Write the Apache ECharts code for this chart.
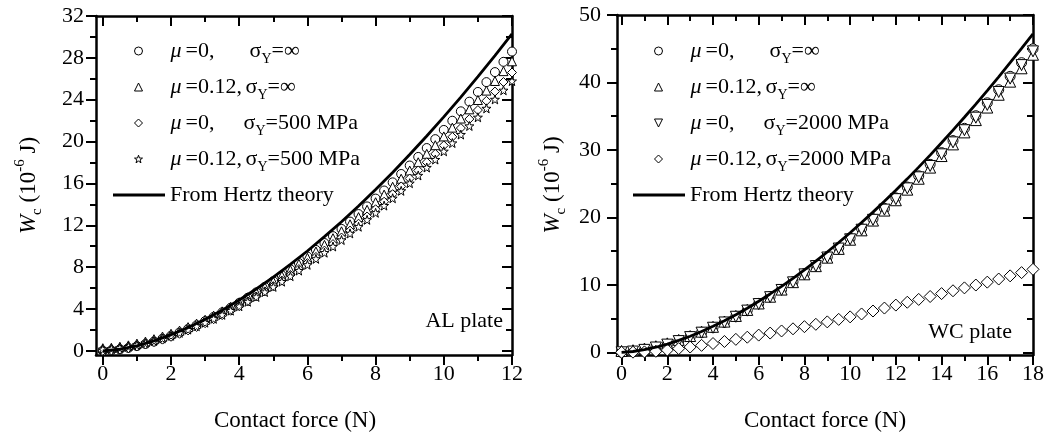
<!DOCTYPE html>
<html>
<head>
<meta charset="utf-8">
<script src="https://cdn.jsdelivr.net/npm/echarts@6/dist/echarts.min.js"></script>
<style>html,body{margin:0;padding:0;background:#fff;}#c{width:1050px;height:439px;}</style>
</head>
<body>
<div id="c"></div>
<script>
// ---------- data ----------
const fL = [0,0.25,0.5,0.75,1,1.25,1.5,1.75,2,2.25,2.5,2.75,3,3.25,3.5,3.75,4,4.25,4.5,4.75,5,5.25,5.5,5.75,6,6.25,6.5,6.75,7,7.25,7.5,7.75,8,8.25,8.5,8.75,9,9.25,9.5,9.75,10,10.25,10.5,10.75,11,11.25,11.5,11.75,12];
const leftCircle = [0,0.05,0.14,0.28,0.45,0.66,0.89,1.16,1.44,1.76,2.09,2.45,2.84,3.24,3.67,4.12,4.58,5.07,5.58,6.10,6.65,7.21,7.79,8.39,9.01,9.64,10.30,10.96,11.65,12.35,13.07,13.80,14.55,15.32,16.10,16.90,17.71,18.53,19.38,20.23,21.11,21.99,22.89,23.81,24.74,25.68,26.64,27.62,28.60];
const leftTri = [0.25,0.29,0.39,0.52,0.69,0.88,1.11,1.36,1.63,1.93,2.26,2.60,2.97,3.36,3.77,4.20,4.64,5.11,5.60,6.10,6.62,7.16,7.72,8.30,8.89,9.49,10.12,10.76,11.42,12.09,12.78,13.48,14.20,14.93,15.68,16.45,17.23,18.02,18.83,19.65,20.49,21.33,22.20,23.08,23.97,24.87,25.79,26.73,27.67];
const leftDia = [0,0.04,0.13,0.26,0.42,0.61,0.83,1.07,1.34,1.63,1.95,2.28,2.64,3.02,3.41,3.83,4.26,4.72,5.19,5.68,6.18,6.71,7.25,7.81,8.38,8.97,9.58,10.20,10.83,11.49,12.15,12.84,13.53,14.25,14.97,15.71,16.47,17.24,18.02,18.82,19.63,20.45,21.29,22.15,23.01,23.89,24.78,25.69,26.60];
const leftStar = [0.15,0.19,0.28,0.40,0.56,0.74,0.95,1.19,1.44,1.72,2.03,2.35,2.69,3.06,3.44,3.84,4.26,4.69,5.15,5.62,6.11,6.61,7.13,7.67,8.22,8.79,9.38,9.97,10.59,11.22,11.86,12.52,13.19,13.88,14.58,15.29,16.02,16.76,17.52,18.28,19.07,19.86,20.67,21.49,22.32,23.17,24.03,24.90,25.78];
const fHL = [0,0.5,1,1.5,2,2.5,3,3.5,4,4.5,5,5.5,6,6.5,7,7.5,8,8.5,9,9.5,10,10.5,11,11.5,12];
const leftHertz = [0,0.15,0.48,0.95,1.53,2.22,3.01,3.89,4.86,5.91,7.04,8.26,9.54,10.91,12.34,13.84,15.41,17.05,18.76,20.53,22.36,24.25,26.21,28.22,30.30];

const fR = [0,0.5,1,1.5,2,2.5,3,3.5,4,4.5,5,5.5,6,6.5,7,7.5,8,8.5,9,9.5,10,10.5,11,11.5,12,12.5,13,13.5,14,14.5,15,15.5,16,16.5,17,17.5,18];
const rightCircle = [0,0.11,0.36,0.72,1.15,1.68,2.27,2.94,3.67,4.46,5.32,6.23,7.21,8.24,9.32,10.45,11.65,12.88,14.17,15.51,16.90,18.33,19.80,21.33,22.89,24.50,26.16,27.86,29.60,31.38,33.20,35.07,36.98,38.92,40.91,42.93,44.99];
const rightTri = [0.20,0.31,0.55,0.90,1.33,1.84,2.41,3.06,3.78,4.55,5.39,6.28,7.24,8.24,9.30,10.40,11.56,12.77,14.03,15.33,16.69,18.08,19.53,21.01,22.54,24.11,25.73,27.38,29.09,30.82,32.60,34.42,36.28,38.18,40.12,42.10,44.11];
const rightInvTri = [0,0.11,0.36,0.71,1.14,1.66,2.25,2.91,3.64,4.42,5.27,6.18,7.15,8.17,9.24,10.37,11.55,12.78,14.05,15.38,16.75,18.17,19.64,21.15,22.70,24.30,25.94,27.62,29.35,31.12,32.92,34.78,36.67,38.59,40.57,42.57,44.61];
const rightDia = [0,0.02,0.06,0.15,0.33,0.55,0.78,1.03,1.30,1.60,1.92,2.24,2.55,2.85,3.16,3.48,3.80,4.15,4.51,4.88,5.25,5.68,6.12,6.56,7.00,7.42,7.84,8.27,8.70,9.12,9.55,9.97,10.40,10.86,11.33,11.81,12.30];
const rightHertz = [0,0.12,0.38,0.75,1.21,1.76,2.38,3.08,3.85,4.68,5.58,6.54,7.57,8.65,9.78,10.97,12.22,13.52,14.87,16.27,17.73,19.23,20.78,22.38,24.02,25.71,27.45,29.23,31.06,32.93,34.84,36.80,38.80,40.84,42.93,45.05,47.21];

// tick labels
const xTicksL = [0,2,4,6,8,10,12];
const xMinorL = [1,3,5,7,9,11];
const yTicksL = [0,4,8,12,16,20,24,28,32];
const yMinorL = [2,6,10,14,18,22,26,30];
const xTicksR = [0,2,4,6,8,10,12,14,16,18];
const xMinorR = [1,3,5,7,9,11,13,15,17];
const yTicksR = [0,10,20,30,40,50];
const yMinorR = [5,15,25,35,45];

// legend / series names
const nL = ['μ=0, σY=∞','μ=0.12, σY=∞','μ=0, σY=500 MPa','μ=0.12, σY=500 MPa','From Hertz theory'];
const nR = ['μ=0, σY=∞','μ=0.12, σY=∞','μ=0, σY=2000 MPa','μ=0.12, σY=2000 MPa','From Hertz theory'];
const richNames = {
  'μ=0, σY=∞': '{sp| }{mu|μ}{w64|=0,}{t|σ}{sub|Y}{t|=∞}',
  'μ=0.12, σY=∞': '{sp| }{mu|μ}{w60|=0.12,}{t|σ}{sub|Y}{t|=∞}',
  'μ=0, σY=500 MPa': '{sp| }{mu|μ}{w58|=0,}{t|σ}{sub|Y}{t|=500 MPa}',
  'μ=0.12, σY=500 MPa': '{sp| }{mu|μ}{w60|=0.12,}{t|σ}{sub|Y}{t|=500 MPa}',
  'μ=0, σY=2000 MPa': '{sp| }{mu|μ}{w58|=0,}{t|σ}{sub|Y}{t|=2000 MPa}',
  'μ=0.12, σY=2000 MPa': '{sp| }{mu|μ}{w60|=0.12,}{t|σ}{sub|Y}{t|=2000 MPa}',
  'From Hertz theory': '{t|From Hertz theory}'
};

// ---------- styling ----------
const FF = 'Liberation Serif';
const STAR = 'path://M50,0 L61.76,33.82 L97.55,34.55 L69.02,56.18 L79.39,90.45 L50,70 L20.61,90.45 L30.98,56.18 L2.45,34.55 L38.24,33.82 Z';
const INVTRI = 'path://M0,0 L10,0 L5,10 Z';
const LINEICON = 'path://M0,0H52V3H0Z';
const legendIcons = {
  'μ=0, σY=∞': 'circle', 'μ=0.12, σY=∞': 'triangle', 'μ=0, σY=500 MPa': 'diamond',
  'μ=0.12, σY=500 MPa': STAR, 'μ=0, σY=2000 MPa': INVTRI, 'μ=0.12, σY=2000 MPa': 'diamond'
};
const base = {fontFamily: FF, fontSize: 22, color: '#000', lineHeight: 30};
const legRich = {
  sp: Object.assign({}, base, {width: 23}),
  mu: Object.assign({}, base, {fontStyle: 'italic', padding: [0, 4, 0, 0]}),
  t: base,
  w64: Object.assign({}, base, {width: 64}),
  w60: Object.assign({}, base, {width: 60}),
  w58: Object.assign({}, base, {width: 58}),
  sub: {fontFamily: FF, fontSize: 14, color: '#000', lineHeight: 10, verticalAlign: 'bottom'}
};
const yRich = {
  w: {fontFamily: FF, fontSize: 23, fontStyle: 'italic', color: '#000', lineHeight: 32},
  c: {fontFamily: FF, fontSize: 15, color: '#000', lineHeight: 10, verticalAlign: 'bottom'},
  t: {fontFamily: FF, fontSize: 23, color: '#000', lineHeight: 32},
  e: {fontFamily: FF, fontSize: 15, color: '#000', lineHeight: 10, verticalAlign: 'top'}
};
const yName = '{w|W}{c|c}{t| (10}{e|-6}{t| J)}';

function axes(gridIndex, position, min, max, majors, minors, extra) {
  const inside = (position === 'top' || position === 'right');
  const major = Object.assign({
    type: 'value', gridIndex: gridIndex, position: position, min: min, max: max,
    axisLine: {show: true, onZero: false, lineStyle: {color: '#000', width: 2.5}},
    axisTick: {show: true, inside: inside, length: 10, customValues: majors, lineStyle: {color: '#000', width: 2}},
    axisLabel: {show: false},
    splitLine: {show: false},
    minorTick: {show: false}
  }, extra || {});
  const minor = {
    type: 'value', gridIndex: gridIndex, position: position, min: min, max: max,
    axisLine: {show: false, onZero: false},
    axisTick: {show: true, inside: inside, length: 6, customValues: minors, lineStyle: {color: '#000', width: 2}},
    axisLabel: {show: false},
    splitLine: {show: false},
    minorTick: {show: false}
  };
  return [major, minor];
}
function lab(values, margin) {
  return {show: true, customValues: values, margin: margin, fontFamily: FF, fontSize: 22, color: '#000'};
}
const xName = {
  name: 'Contact force (N)', nameLocation: 'middle', nameGap: 53,
  nameTextStyle: {fontFamily: FF, fontSize: 23, color: '#000', lineHeight: 26}
};

const xAxis = [].concat(
  axes(0, 'bottom', -0.2, 12, xTicksL, xMinorL, Object.assign({axisLabel: lab(xTicksL, 8)}, xName,
    {nameTextStyle: {fontFamily: FF, fontSize: 23, color: '#000', lineHeight: 26, padding: [0, 18, 0, 0]}})),
  axes(0, 'top', -0.2, 12, xTicksL, xMinorL),
  axes(1, 'bottom', -0.2, 18, xTicksR, xMinorR, Object.assign({axisLabel: lab(xTicksR, 8)}, xName)),
  axes(1, 'top', -0.2, 18, xTicksR, xMinorR)
);
const yAxis = [].concat(
  axes(0, 'left', -0.4, 32, yTicksL, yMinorL, {axisLabel: lab(yTicksL, 12), name: yName, nameLocation: 'middle', nameGap: 51, nameRotate: 90,
    nameTextStyle: {rich: yRich}}),
  axes(0, 'right', -0.4, 32, yTicksL, yMinorL),
  axes(1, 'left', -0.4, 50, yTicksR, yMinorR, {axisLabel: lab(yTicksR, 16), name: yName, nameLocation: 'middle', nameGap: 48, nameRotate: 90,
    nameTextStyle: {rich: yRich}}),
  axes(1, 'right', -0.4, 50, yTicksR, yMinorR)
);

function pairs(xs, ys) { return xs.map(function (x, i) { return [x, ys[i]]; }); }
function sc(name, xi, yi, xs, ys, symbol, size, rot) {
  return {
    type: 'scatter', name: name, xAxisIndex: xi, yAxisIndex: yi,
    data: pairs(xs, ys), symbol: symbol, symbolSize: size, symbolRotate: rot || 0,
    itemStyle: {color: '#fff', borderColor: '#000', borderWidth: 1, opacity: 1},
    emphasis: {disabled: true}, clip: false, z: 2
  };
}
function hz(name, xi, yi, xs, ys) {
  return {
    type: 'line', name: name, xAxisIndex: xi, yAxisIndex: yi,
    data: pairs(xs, ys), symbol: 'none', smooth: false, color: '#000',
    lineStyle: {color: '#000', width: 2.8}, itemStyle: {color: '#000', borderColor: '#000'},
    emphasis: {disabled: true}, z: 3
  };
}
const series = [
  sc(nL[0], 0, 0, fL, leftCircle, 'circle', 9),
  sc(nL[1], 0, 0, fL, leftTri, 'triangle', 9),
  sc(nL[2], 0, 0, fL, leftDia, 'diamond', 9),
  sc(nL[3], 0, 0, fL, leftStar, STAR, 9),
  hz(nL[4], 0, 0, fHL, leftHertz),
  sc(nR[0], 4, 4, fR, rightCircle, 'circle', 10),
  sc(nR[1], 4, 4, fR, rightTri, 'triangle', 11),
  sc(nR[2], 4, 4, fR, rightInvTri, 'triangle', 11, 180),
  sc(nR[3], 4, 4, fR, rightDia, 'diamond', 12),
  hz(nR[4], 4, 4, fR, rightHertz)
];

// marker legend (square icon box) and line legend (wide icon box)
function markerLegend(iconCenterX, names) {
  return {
    orient: 'vertical', left: iconCenterX - 4 - 5, top: 35, itemWidth: 8, itemHeight: 8, itemGap: 10,
    selectedMode: false,
    itemStyle: {borderWidth: 1},
    data: names.map(function (n) { return {name: n, icon: legendIcons[n]}; }),
    formatter: function (n) { return richNames[n] || n; },
    textStyle: {fontFamily: FF, fontSize: 22, color: '#000', rich: legRich}
  };
}
function lineLegend(left, name) {
  return {
    orient: 'vertical', left: left - 5, top: 179, itemWidth: 52, itemHeight: 8,
    selectedMode: false,
    itemStyle: {borderWidth: 0},
    data: [{name: name, icon: LINEICON}],
    formatter: function (n) { return richNames[n] || n; },
    textStyle: {fontFamily: FF, fontSize: 22, color: '#000', rich: legRich}
  };
}

const option = {
  animation: false,
  backgroundColor: '#fff',
  grid: [
    {left: 96, right: 538, top: 16, bottom: 83},
    {left: 617, right: 17, top: 15, bottom: 82}
  ],
  xAxis: xAxis,
  yAxis: yAxis,
  legend: [
    markerLegend(138, nL.slice(0, 4)), lineLegend(113, nL[4]),
    markerLegend(658, nR.slice(0, 4)), lineLegend(633, nR[4])
  ],
  graphic: [
    {type: 'text', x: 503, y: 321, style: {text: 'AL plate', align: 'right', verticalAlign: 'middle', fontFamily: FF, fontSize: 22, fill: '#000'}},
    {type: 'text', x: 1012, y: 332, style: {text: 'WC plate', align: 'right', verticalAlign: 'middle', fontFamily: FF, fontSize: 22, fill: '#000'}}
  ],
  series: series
};
const chart = echarts.init(document.getElementById('c'), null, {renderer: 'canvas'});
chart.setOption(option);
</script>
</body>
</html>
